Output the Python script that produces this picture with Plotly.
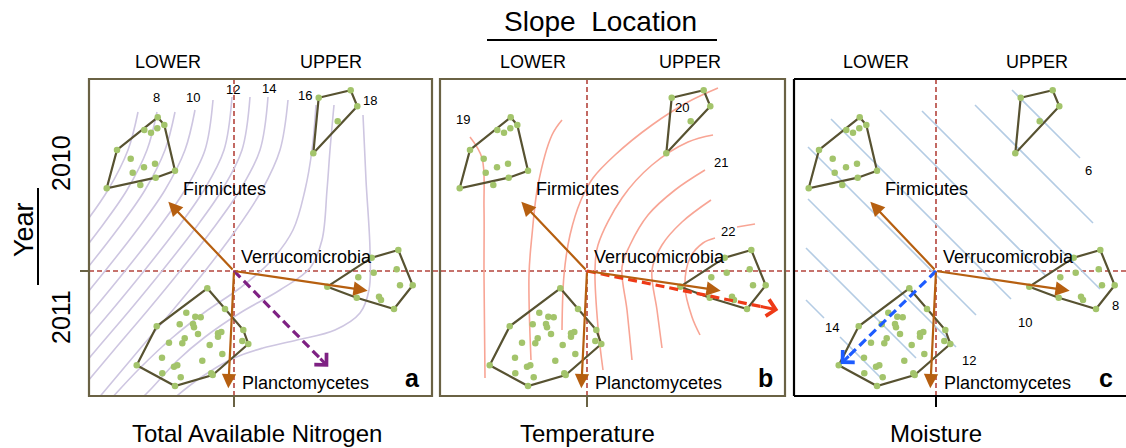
import plotly.graph_objects as go

W, H = 1126, 448
FONT = "Liberation Sans, Arial, Helvetica, sans-serif"

# ---------------- ordination (site scores, shared by all panels) ----------------
hull_10L_x = [-76.3, -69.7, -59.0, -78.3, -127.3, -117.0]
hull_10L_y = [153.7, 146.0, 100.3, 93.3, 82.7, 121.0]
pts_10L_x = [-89.7, -83.0, -76.7, -103.3, -90.0, -79.0, -101.3, -93.7]
pts_10L_y = [141.0, 138.3, 142.7, 112.3, 103.7, 107.3, 98.3, 86.0]

hull_10U_x = [84.7, 116.7, 123.3, 79.3]
hull_10U_y = [173.3, 180.7, 164.7, 117.7]
pts_10U_x = [103.7]
pts_10U_y = [149.7]

hull_11U_x = [93.3, 137.7, 164.3, 178.7, 160.0, 122.7]
hull_11U_y = [-15.7, 13.3, 21.0, -14.3, -38.0, -26.7]
pts_11U_x = [124.3, 139.7, 162.7, 166.0, 145.0, 147.0]
pts_11U_y = [-6.3, -1.7, 1.7, -14.3, -25.7, -29.0]

hull_11L_x = [-26.7, -9.0, 9.3, 14.3, -21.3, -59.0, -97.3, -77.3]
hull_11L_y = [-17.3, -38.0, -59.0, -73.0, -104.0, -115.0, -94.3, -55.3]
pts_11L_x = [-47.7, -38.7, -33.3, -54.3, -41.0, -40.0, -16.0, -12.7, -16.0, -36.0, -65.0, -49.3,
             -51.7, -24.3, 8.3, -72.0, -60.0, -56.7, -31.7, -11.7, -53.3, -71.7, -22.7]
pts_11L_y = [-41.7, -45.7, -46.3, -53.3, -53.0, -56.3, -62.3, -61.0, -65.7, -63.0, -71.7, -67.3,
             -72.3, -74.0, -70.0, -86.7, -95.7, -94.3, -89.7, -83.0, -106.3, -102.3, -102.3]

# species arrows
species = ["Firmicutes", "Verrucomicrobia", "Planctomycetes"]
species_x = [-65.7, 133.7, -5.7]
species_y = [69.3, -19.7, -117.3]
species_lab_x = [-9.7, 72.7, 71.0]
species_lab_y = [82.0, 14.3, -111.7]

# environmental vectors
env_names = ["Total Available Nitrogen", "Temperature", "Moisture"]
env_x = [94.3, 191.3, -95.3]
env_y = [-95.7, -39.0, -93.0]
env_colors = ["#7e2183", "#ee3a17", "#1d5cff"]
panel_letters = ["a", "b", "c"]

# slope-position header centres (in each panel's axis units)
lower_pos = [-66, -54, -60]
upper_pos = [97, 103, 101]

# ---------------- fitted surfaces (contour lines) ----------------
# panel a : total available nitrogen
tan_levels = [7, 8, 9, 10, 11, 12, 13, 14, 15, 16, 17, 18]
tan_x = [
    [-96, -106, -126, -154],
    [-77, -87, -107, -135, -167],
    [-59, -69, -89, -117, -149],
    [-39, -49, -69, -97, -129, -161],
    [-21, -29, -49, -77, -109, -141, -175],
    [-2, -10, -30, -58, -90, -122, -156],
    [16, 8, -12, -40, -72, -104, -138, -180],
    [34, 26, 6, -22, -54, -86, -120, -162],
    [54, 46, 28, 2, -29, -61, -95, -137],
    [82, 78, 71, 59, 36, 6, -29, -62, -94, -124],
    [100, 96, 93, 88, 76, 46, 6, -29, -56, -84, -94],
    [129, 132, 136, 135, 126, 101, 63, 29, 0, -34, -62],
]
tan_y = [
    [159, 121, 81, 41],
    [159, 121, 81, 41, 0],
    [159, 121, 81, 41, 0],
    [161, 121, 81, 41, 0, -39],
    [171, 121, 81, 41, 0, -39, -79],
    [174, 121, 81, 41, 0, -39, -79],
    [174, 121, 81, 41, 0, -39, -79, -129],
    [174, 121, 81, 41, 0, -39, -79, -129],
    [171, 121, 81, 41, 0, -39, -79, -129],
    [166, 121, 81, 41, 9, -17, -41, -67, -97, -129],
    [166, 121, 81, 31, 3, -19, -42, -66, -89, -119, -129],
    [156, 91, 21, -19, -42, -59, -69, -77, -87, -107, -129],
]
tan_lab = ["8", "10", "12", "14", "16", "18"]
tan_lab_x = [-78, -41, -1, 35, 71, 136]
tan_lab_y = [174, 174, 182, 183, 176, 171]

# panel b : temperature
tmp_x = [
    [-117, -105, -103, -103, -102],
    [-25, -35, -49, -55, -58, -56],
    [131, 101, 65, 28, 6, -6, -17, -23, -25],
    [126, 101, 65, 35, 11, 8, 11, 16],
    [118, 88, 61, 43, 35, 40, 45],
    [124, 95, 75, 65, 70, 75],
    [113, 105, 98, 103, 116, 128],
    [150, 168],
]
tmp_y = [
    [134, 113, 63, -4, -107],
    [151, 136, 86, 36, -4, -89],
    [183, 169, 146, 116, 93, 71, 36, -4, -59],
    [136, 129, 106, 73, 26, 1, -56, -99],
    [101, 81, 56, 26, 4, -39, -89],
    [71, 49, 26, 1, -39, -77],
    [-64, -46, -16, 13, 28, 33],
    [44, 47],
]
tmp_lab = ["19", "20", "21", "22"]
tmp_lab_x = [-124, 95, 134, 141]
tmp_lab_y = [152, 164, 109, 40]

# panel c : moisture
moi_x = [
    [76, 144], [39, 157], [-14, 164], [-56, 110], [-105, 75], [-128, 40],
    [-128, 20], [-130, -20], [-130, -112], [-96, -54],
]
moi_y = [
    [181, 113], [166, 48], [160, -18], [161, -5], [152, -28], [124, -44],
    [72, -76], [23, -87], [-29, -47], [-66, -108],
]
moi_lab = ["6", "8", "10", "12", "14"]
moi_lab_x = [152, 179, 89, 33, -104]
moi_lab_y = [101, -34, -51, -89, -56]

# ---------------- layout geometry ----------------
x_domains = [[89 / W, 432 / W], [440 / W, 785 / W], [794 / W, 1.0]]
x_ranges = [[-145, 198], [-147, 198], [-142, 190]]
y_domain = [1 - 396 / H, 1 - 79 / H]
y_range = [-125, 192]

contours = [(tan_x, tan_y, "#cec6e1", tan_lab, tan_lab_x, tan_lab_y),
            (tmp_x, tmp_y, "#f8a595", tmp_lab, tmp_lab_x, tmp_lab_y),
            (moi_x, moi_y, "#b4cce4", moi_lab, moi_lab_x, moi_lab_y)]

fig = go.Figure()
annotations = []
shapes = []

OLIVE = "#6a6244"
REDDASH = "#b4443c"
HULL = "#575231"
PTS = "#a3c46b"
ARROW = "#b65f10"


def text_ann(x, y, text, size, xref, yref, angle=0):
    return dict(x=x, y=y, xref=xref, yref=yref, text=text, showarrow=False,
                xanchor="center", yanchor="middle", textangle=angle,
                font=dict(size=size, color="black", family=FONT))


hulls = [(hull_10L_x, hull_10L_y, pts_10L_x, pts_10L_y),
         (hull_10U_x, hull_10U_y, pts_10U_x, pts_10U_y),
         (hull_11U_x, hull_11U_y, pts_11U_x, pts_11U_y),
         (hull_11L_x, hull_11L_y, pts_11L_x, pts_11L_y)]

for i in range(3):
    xa = "x" if i == 0 else f"x{i+1}"
    ya = "y" if i == 0 else f"y{i+1}"
    cx, cy, ccol, labs, lx, ly = contours[i]
    for xs, ys in zip(cx, cy):
        fig.add_trace(go.Scatter(x=xs, y=ys, mode="lines", xaxis=xa, yaxis=ya,
                                 line=dict(color=ccol, width=1.6, shape="spline", smoothing=1.0),
                                 hoverinfo="skip"))
    for t, x0, y0 in zip(labs, lx, ly):
        annotations.append(text_ann(x0, y0, t, 13, xa, ya))
    # crosshair vertical
    shapes.append(dict(type="line", xref=xa, yref=f"{ya} domain", x0=0, x1=0, y0=0, y1=1,
                       line=dict(color=REDDASH, width=1.6, dash="5px,3px"), layer="below"))
    # hulls and points
    for hx, hy, px, py in hulls:
        fig.add_trace(go.Scatter(x=hx + hx[:1], y=hy + hy[:1], mode="lines", xaxis=xa, yaxis=ya,
                                 line=dict(color=HULL, width=2.2), hoverinfo="skip"))
        fig.add_trace(go.Scatter(x=hx + px, y=hy + py, mode="markers", xaxis=xa, yaxis=ya,
                                 marker=dict(color=PTS, size=6.5), hoverinfo="skip"))
    # environmental vector (dashed)
    fig.add_trace(go.Scatter(x=[0, env_x[i] * 0.93], y=[0, env_y[i] * 0.93], mode="lines",
                             xaxis=xa, yaxis=ya,
                             line=dict(color=env_colors[i], width=3.2, dash="9px,5px"),
                             hoverinfo="skip"))
    annotations.append(dict(x=env_x[i], y=env_y[i], ax=env_x[i] * 0.9, ay=env_y[i] * 0.9,
                            xref=xa, yref=ya, axref=xa, ayref=ya, text="", showarrow=True,
                            arrowhead=4, arrowsize=1.1, arrowwidth=3, arrowcolor=env_colors[i],
                            standoff=0))
    # species arrows
    for name, sx, sy, tx, ty in zip(species, species_x, species_y, species_lab_x, species_lab_y):
        annotations.append(dict(x=sx, y=sy, ax=0, ay=0, xref=xa, yref=ya, axref=xa, ayref=ya,
                                text="", showarrow=True, arrowhead=2, arrowsize=1.3,
                                arrowwidth=2.2, arrowcolor=ARROW, standoff=0))
        annotations.append(text_ann(tx, ty, name, 18, xa, ya))
    # panel letter
    annotations.append(text_ann(x_ranges[i][1] - 20, -107, f"<b>{panel_letters[i]}</b>", 25, xa, ya))
    # panel frame
    bcol = OLIVE if i < 2 else "black"
    if i < 2:
        shapes.append(dict(type="rect", xref=f"{xa} domain", yref=f"{ya} domain",
                           x0=0, x1=1, y0=0, y1=1, line=dict(color=bcol, width=2.2)))
    else:
        for (a0, b0, a1, b1) in [(0, 0, 0, 1), (0, 1, 1, 1), (0, 0, 1, 0)]:
            shapes.append(dict(type="line", xref=f"{xa} domain", yref=f"{ya} domain",
                               x0=a0, y0=b0, x1=a1, y1=b1, line=dict(color=bcol, width=2.2)))
    # bottom tick
    shapes.append(dict(type="line", xref=xa, yref="paper", x0=0, x1=0,
                       y0=1 - 407 / H, y1=1 - 396 / H, line=dict(color=bcol, width=2)))
    # slope position headers
    annotations.append(text_ann(lower_pos[i], 1 - 62 / H, "LOWER", 18, xa, "paper"))
    annotations.append(text_ann(upper_pos[i], 1 - 62 / H, "UPPER", 18, xa, "paper"))
    # environmental variable name
    annotations.append(text_ann(0 + (23 if i == 0 else 0), 1 - 433 / H, env_names[i], 24,
                                xa, "paper"))

# horizontal crosshair across all panels
shapes.append(dict(type="line", xref="paper", yref="y", x0=89 / W, x1=1, y0=0, y1=0,
                   line=dict(color=REDDASH, width=1.6, dash="5px,3px"), layer="below"))
shapes.append(dict(type="line", xref="paper", yref="y", x0=80 / W, x1=89 / W, y0=0, y1=0,
                   line=dict(color=OLIVE, width=2)))

# title and year labels
annotations.append(text_ann(600 / W, 1 - 21 / H, "Slope\u00a0\u00a0Location", 28, "paper", "paper"))
shapes.append(dict(type="line", xref="paper", yref="paper", x0=487 / W, x1=717 / W,
                   y0=1 - 40 / H, y1=1 - 40 / H, line=dict(color="black", width=2)))
annotations.append(text_ann(61 / W, 1 - 163 / H, "2010", 25, "paper", "paper", -90))
annotations.append(text_ann(61 / W, 1 - 317 / H, "2011", 25, "paper", "paper", -90))
annotations.append(text_ann(24 / W, 1 - 230 / H, "Year", 27, "paper", "paper", -90))
shapes.append(dict(type="line", xref="paper", yref="paper", x0=38 / W, x1=38 / W,
                   y0=1 - 285 / H, y1=1 - 188 / H, line=dict(color="black", width=2)))

layout = dict(width=W, height=H, margin=dict(l=0, r=0, t=0, b=0),
              paper_bgcolor="white", plot_bgcolor="white", showlegend=False,
              annotations=annotations, shapes=shapes)
for i in range(3):
    kx = "xaxis" if i == 0 else f"xaxis{i+1}"
    ky = "yaxis" if i == 0 else f"yaxis{i+1}"
    ya = "y" if i == 0 else f"y{i+1}"
    xa = "x" if i == 0 else f"x{i+1}"
    layout[kx] = dict(domain=x_domains[i], range=x_ranges[i], anchor=ya, showgrid=False,
                      zeroline=False, showticklabels=False, ticks="", showline=False,
                      fixedrange=True)
    layout[ky] = dict(domain=y_domain, range=y_range, anchor=xa, showgrid=False,
                      zeroline=False, showticklabels=False, ticks="", showline=False,
                      fixedrange=True)
fig.update_layout(**layout)
fig.write_html("out.html")
